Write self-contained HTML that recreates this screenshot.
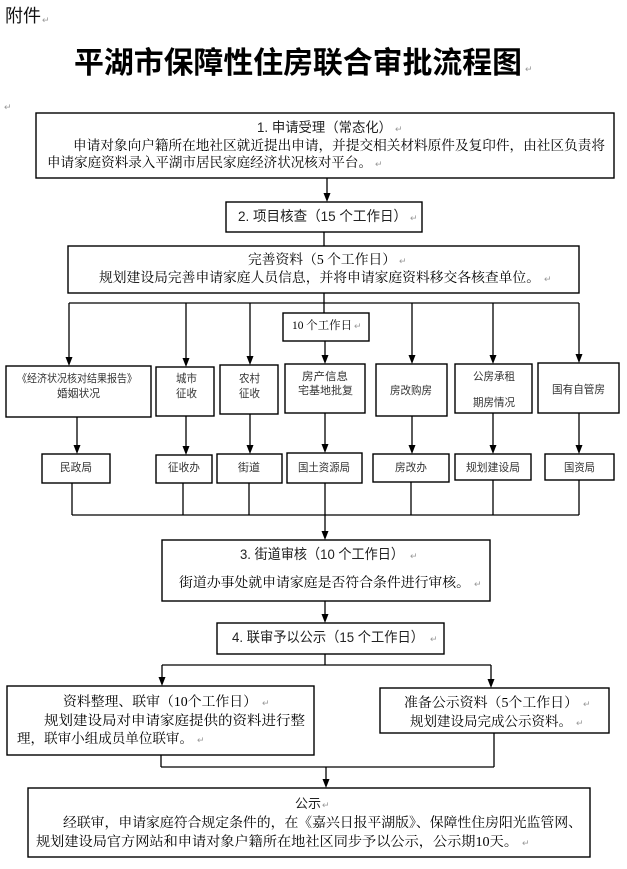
<!DOCTYPE html>
<html>
<head>
<meta charset="utf-8">
<style>
  html,body{margin:0;padding:0;background:#fff;}
  svg{display:block;}
  .sans{font-family:"Liberation Sans","Noto Sans CJK SC",sans-serif;}
  .serif{font-family:"Liberation Serif","Noto Serif CJK SC",serif;}
  .pm{font-family:"Liberation Sans","Noto Sans CJK SC",sans-serif;font-size:9px;fill:#999;}
</style>
</head>
<body>
<svg width="627" height="869" viewBox="0 0 627 869" xmlns="http://www.w3.org/2000/svg">
  <rect x="0" y="0" width="627" height="869" fill="#fff"/>

  <!-- Header -->
  <text class="sans" x="5" y="22" font-size="18" textLength="36" lengthAdjust="spacingAndGlyphs" fill="#111">附件</text>
  <text class="pm" x="42" y="23">↵</text>
  <text class="sans" x="74" y="73" font-size="30" font-weight="bold" textLength="448" lengthAdjust="spacingAndGlyphs" fill="#000">平湖市保障性住房联合审批流程图</text>
  <text class="pm" x="525" y="72">↵</text>
  <text class="pm" x="4" y="110">↵</text>

  <g fill="none" stroke="#000" stroke-width="1.4">
    <!-- Box 1 -->
    <rect x="36" y="113" width="578" height="65"/>
    <!-- Box 2 -->
    <rect x="226" y="202" width="196" height="30"/>
    <!-- Box 3 (完善资料) -->
    <rect x="68" y="246" width="511" height="47"/>
    <!-- 10个工作日 -->
    <rect x="283" y="313" width="86" height="28"/>
    <!-- Row 1 boxes -->
    <rect x="6" y="366" width="145" height="51"/>
    <rect x="156" y="367" width="58" height="49"/>
    <rect x="220" y="365" width="58" height="49"/>
    <rect x="285" y="364" width="80" height="49"/>
    <rect x="376" y="364" width="71" height="52"/>
    <rect x="455" y="364" width="77" height="49"/>
    <rect x="538" y="363" width="81" height="50"/>
    <!-- Row 2 boxes -->
    <rect x="42" y="454" width="68" height="29"/>
    <rect x="156" y="455" width="56" height="28"/>
    <rect x="217" y="454" width="65" height="29"/>
    <rect x="287" y="453" width="75" height="30"/>
    <rect x="373" y="454" width="76" height="28"/>
    <rect x="455" y="454" width="76" height="26"/>
    <rect x="545" y="454" width="69" height="26"/>
    <!-- Box 3. 街道审核 -->
    <rect x="162" y="540" width="328" height="61"/>
    <!-- Box 4 -->
    <rect x="217" y="623" width="227" height="31"/>
    <!-- Left lower box -->
    <rect x="7" y="686" width="307" height="69"/>
    <!-- Right lower box -->
    <rect x="380" y="688" width="229" height="45"/>
    <!-- Bottom box -->
    <rect x="28" y="788" width="562" height="69"/>
  </g>

  <!-- Connectors -->
  <g fill="none" stroke="#000" stroke-width="1.3">
    <line x1="327" y1="178" x2="327" y2="195"/>
    <line x1="324" y1="232" x2="324" y2="246"/>
    <line x1="324" y1="293" x2="324" y2="313"/>
    <line x1="69" y1="303" x2="579" y2="303"/>
    <line x1="69" y1="303" x2="69" y2="358"/>
    <line x1="186" y1="303" x2="186" y2="359"/>
    <line x1="250" y1="303" x2="250" y2="357"/>
    <line x1="412" y1="303" x2="412" y2="356"/>
    <line x1="493" y1="303" x2="493" y2="356"/>
    <line x1="579" y1="303" x2="579" y2="355"/>
    <line x1="325" y1="341" x2="325" y2="356"/>
    <!-- row1 to row2 -->
    <line x1="77" y1="417" x2="77" y2="446"/>
    <line x1="186" y1="416" x2="186" y2="447"/>
    <line x1="250" y1="414" x2="250" y2="446"/>
    <line x1="325" y1="413" x2="325" y2="445"/>
    <line x1="412" y1="416" x2="412" y2="446"/>
    <line x1="493" y1="413" x2="493" y2="446"/>
    <line x1="579" y1="413" x2="579" y2="446"/>
    <!-- row2 down -->
    <line x1="72" y1="483" x2="72" y2="515"/>
    <line x1="183" y1="483" x2="183" y2="515"/>
    <line x1="249" y1="483" x2="249" y2="515"/>
    <line x1="325" y1="483" x2="325" y2="532"/>
    <line x1="411" y1="482" x2="411" y2="515"/>
    <line x1="493" y1="480" x2="493" y2="515"/>
    <line x1="579" y1="480" x2="579" y2="515"/>
    <line x1="72" y1="515" x2="579" y2="515"/>
    <!-- box3 to box4 -->
    <line x1="325" y1="601" x2="325" y2="615"/>
    <!-- box4 split -->
    <line x1="325" y1="654" x2="325" y2="665"/>
    <line x1="162" y1="665" x2="491" y2="665"/>
    <line x1="162" y1="665" x2="162" y2="678"/>
    <line x1="491" y1="665" x2="491" y2="680"/>
    <!-- merge -->
    <line x1="161" y1="755" x2="161" y2="767"/>
    <line x1="494" y1="733" x2="494" y2="767"/>
    <line x1="161" y1="767" x2="494" y2="767"/>
    <line x1="326" y1="767" x2="326" y2="780"/>
  </g>

  <!-- Arrowheads -->
  <g fill="#000" stroke="none">
    <polygon points="323.5,193 330.5,193 327,202"/>
    <polygon points="65.5,357 72.5,357 69,366"/>
    <polygon points="182.5,358 189.5,358 186,367"/>
    <polygon points="246.5,356 253.5,356 250,365"/>
    <polygon points="321.5,355 328.5,355 325,364"/>
    <polygon points="408.5,355 415.5,355 412,364"/>
    <polygon points="489.5,355 496.5,355 493,364"/>
    <polygon points="575.5,354 582.5,354 579,363"/>
    <polygon points="73.5,445 80.5,445 77,454"/>
    <polygon points="182.5,446 189.5,446 186,455"/>
    <polygon points="246.5,445 253.5,445 250,454"/>
    <polygon points="321.5,444 328.5,444 325,453"/>
    <polygon points="408.5,445 415.5,445 412,454"/>
    <polygon points="489.5,445 496.5,445 493,454"/>
    <polygon points="575.5,445 582.5,445 579,454"/>
    <polygon points="321.5,531 328.5,531 325,540"/>
    <polygon points="321.5,614 328.5,614 325,623"/>
    <polygon points="158.5,677 165.5,677 162,686"/>
    <polygon points="487.5,679 494.5,679 491,688"/>
    <polygon points="322.5,779 329.5,779 326,788"/>
  </g>

  <!-- Box 1 text -->
  <text class="sans" x="257" y="132" font-size="13.5" textLength="135" lengthAdjust="spacingAndGlyphs" fill="#222">1. 申请受理（常态化）</text>
  <text class="pm" x="395" y="132">↵</text>
  <text class="serif" x="73" y="150" font-size="13.6" textLength="532" lengthAdjust="spacingAndGlyphs" fill="#000">申请对象向户籍所在地社区就近提出申请，并提交相关材料原件及复印件，由社区负责将</text>
  <text class="serif" x="47" y="167" font-size="13.6" textLength="325" lengthAdjust="spacingAndGlyphs" fill="#000">申请家庭资料录入平湖市居民家庭经济状况核对平台。</text>
  <text class="pm" x="375" y="167">↵</text>

  <!-- Box 2 text -->
  <text class="sans" x="238" y="221" font-size="14" textLength="169" lengthAdjust="spacingAndGlyphs" fill="#222">2. 项目核查（15 个工作日）</text>
  <text class="pm" x="410" y="221">↵</text>

  <!-- Box 3 (完善资料) -->
  <text class="serif" x="248" y="264" font-size="13.6" textLength="148" lengthAdjust="spacingAndGlyphs" fill="#000">完善资料（5 个工作日）</text>
  <text class="pm" x="399" y="264">↵</text>
  <text class="serif" x="99" y="282" font-size="13.6" textLength="441" lengthAdjust="spacingAndGlyphs" fill="#000">规划建设局完善申请家庭人员信息，并将申请家庭资料移交各核查单位。</text>
  <text class="pm" x="544" y="282">↵</text>

  <!-- 10个工作日 -->
  <text class="serif" x="292" y="329" font-size="11.5" textLength="60" lengthAdjust="spacingAndGlyphs" fill="#000">10 个工作日</text>
  <text class="pm" x="354" y="329">↵</text>

  <!-- Row 1 texts -->
  <g class="sans" font-size="11" fill="#333">
    <text x="17" y="382" textLength="120" lengthAdjust="spacingAndGlyphs">《经济状况核对结果报告》</text>
    <text x="57" y="397" textLength="43" lengthAdjust="spacingAndGlyphs">婚姻状况</text>
    <text x="176" y="382" textLength="21" lengthAdjust="spacingAndGlyphs">城市</text>
    <text x="176" y="397" textLength="21" lengthAdjust="spacingAndGlyphs">征收</text>
    <text x="239" y="382" textLength="21" lengthAdjust="spacingAndGlyphs">农村</text>
    <text x="239" y="397" textLength="21" lengthAdjust="spacingAndGlyphs">征收</text>
    <text x="302" y="380" textLength="46" lengthAdjust="spacingAndGlyphs">房产信息</text>
    <text x="298" y="394" textLength="55" lengthAdjust="spacingAndGlyphs">宅基地批复</text>
    <text x="390" y="394" textLength="42" lengthAdjust="spacingAndGlyphs">房改购房</text>
    <text x="473" y="380" textLength="42" lengthAdjust="spacingAndGlyphs">公房承租</text>
    <text x="473" y="406" textLength="42" lengthAdjust="spacingAndGlyphs">期房情况</text>
    <text x="552" y="393" textLength="53" lengthAdjust="spacingAndGlyphs">国有自管房</text>
  </g>

  <!-- Row 2 texts -->
  <g class="sans" font-size="11" fill="#333">
    <text x="60" y="471" textLength="32" lengthAdjust="spacingAndGlyphs">民政局</text>
    <text x="168" y="471" textLength="32" lengthAdjust="spacingAndGlyphs">征收办</text>
    <text x="238" y="471" textLength="22" lengthAdjust="spacingAndGlyphs">街道</text>
    <text x="298" y="471" textLength="52" lengthAdjust="spacingAndGlyphs">国土资源局</text>
    <text x="395" y="471" textLength="32" lengthAdjust="spacingAndGlyphs">房改办</text>
    <text x="466" y="471" textLength="54" lengthAdjust="spacingAndGlyphs">规划建设局</text>
    <text x="564" y="471" textLength="31" lengthAdjust="spacingAndGlyphs">国资局</text>
  </g>

  <!-- Box 3. 街道审核 -->
  <text class="sans" x="240" y="559" font-size="14" textLength="164" lengthAdjust="spacingAndGlyphs" fill="#222">3. 街道审核（10 个工作日）</text>
  <text class="pm" x="410" y="559">↵</text>
  <text class="serif" x="179" y="587" font-size="13.6" textLength="291" lengthAdjust="spacingAndGlyphs" fill="#000">街道办事处就申请家庭是否符合条件进行审核。</text>
  <text class="pm" x="474" y="587">↵</text>

  <!-- Box 4 -->
  <text class="sans" x="232" y="642" font-size="14" textLength="192" lengthAdjust="spacingAndGlyphs" fill="#222">4. 联审予以公示（15 个工作日）</text>
  <text class="pm" x="430" y="642">↵</text>

  <!-- Left lower box -->
  <text class="serif" x="63" y="706" font-size="13.6" textLength="194" lengthAdjust="spacingAndGlyphs" fill="#000">资料整理、联审（10个工作日）</text>
  <text class="pm" x="262" y="706">↵</text>
  <text class="serif" x="44" y="725" font-size="13.6" textLength="261" lengthAdjust="spacingAndGlyphs" fill="#000">规划建设局对申请家庭提供的资料进行整</text>
  <text class="serif" x="17" y="743" font-size="13.6" textLength="176" lengthAdjust="spacingAndGlyphs" fill="#000">理，联审小组成员单位联审。</text>
  <text class="pm" x="197" y="743">↵</text>

  <!-- Right lower box -->
  <text class="serif" x="404" y="707" font-size="13.6" textLength="174" lengthAdjust="spacingAndGlyphs" fill="#000">准备公示资料（5个工作日）</text>
  <text class="pm" x="583" y="707">↵</text>
  <text class="serif" x="410" y="726" font-size="13.6" textLength="162" lengthAdjust="spacingAndGlyphs" fill="#000">规划建设局完成公示资料。</text>
  <text class="pm" x="576" y="726">↵</text>

  <!-- Bottom box -->
  <text class="sans" x="295" y="808" font-size="13" textLength="26" lengthAdjust="spacingAndGlyphs" fill="#222">公示</text>
  <text class="pm" x="322" y="808">↵</text>
  <text class="serif" x="63" y="827" font-size="13.6" textLength="519" lengthAdjust="spacingAndGlyphs" fill="#000">经联审，申请家庭符合规定条件的，在《嘉兴日报平湖版》、保障性住房阳光监管网、</text>
  <text class="serif" x="36" y="846" font-size="13.6" textLength="482" lengthAdjust="spacingAndGlyphs" fill="#000">规划建设局官方网站和申请对象户籍所在地社区同步予以公示，公示期10天。</text>
  <text class="pm" x="522" y="846">↵</text>
</svg>
</body>
</html>
